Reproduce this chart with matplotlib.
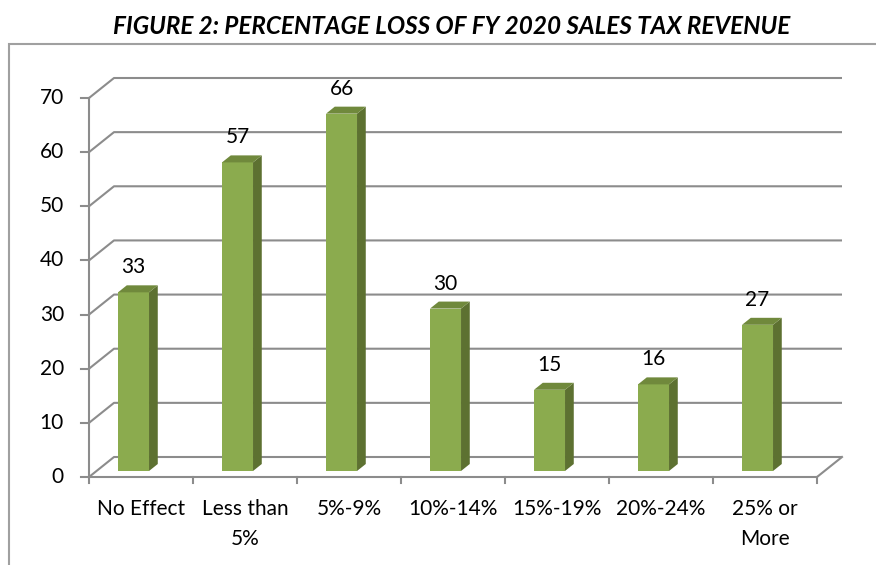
import numpy as np
import matplotlib
matplotlib.use("Agg")
import matplotlib.pyplot as plt
from matplotlib.patches import Polygon, Rectangle

plt.rcParams['font.family'] = ['Lato', 'DejaVu Sans']

categories = ["No Effect", "Less than\n5%", "5%-9%", "10%-14%", "15%-19%", "20%-24%", "25% or\nMore"]
values = [33, 57, 66, 30, 15, 16, 27]
yticks = [0, 10, 20, 30, 40, 50, 60, 70]
title = "FIGURE 2: PERCENTAGE LOSS OF FY 2020 SALES TAX REVENUE"

W, H = 876, 565
fig = plt.figure(figsize=(W / 100, H / 100), dpi=100)
ax = fig.add_axes([0, 0, 1, 1])

# pixel layout of the pseudo-3d plot
x0_px, y0_px = 89, 477          # front-left corner of floor
cat_px = 104                    # width of one category
val_px = 379 / 70               # pixels per unit
ax.set_xlim(-x0_px / cat_px, (W - x0_px) / cat_px)
ax.set_ylim(-(H - y0_px) / val_px, y0_px / val_px)
ax.axis('off')

DX = 25 / cat_px   # depth offset in data units
DY = 20 / val_px
n = len(categories)
grid_c = '#8c8c8c'
lw = 1.5
fs = 15

# back wall gridlines
for v in yticks:
    ax.plot([0, DX, n + DX], [v, v + DY, v + DY], color=grid_c, lw=lw, solid_capstyle='butt')
# floor
ax.plot([0, n, n + DX], [0, 0, DY], color=grid_c, lw=lw)
# vertical axis and ticks
ax.plot([0, 0], [0, max(yticks)], color=grid_c, lw=lw)
for v in yticks:
    ax.plot([-8 / cat_px, 0], [v, v], color=grid_c, lw=lw)
    ax.text(-25 / cat_px, v, str(v), ha='right', va='center', fontsize=fs, color='black')
for i in range(n + 1):
    ax.plot([i, i], [0, -6 / val_px], color=grid_c, lw=lw)

# bars
bl, bw = 0.207, 0.298
t0, t1 = 0.3, 0.65
front_c, side_c, top_c = '#8bab4e', '#5d7131', '#70893c'
for i, v in enumerate(values):
    xl = i + bl + t0 * DX
    xr = xl + bw
    yb = t0 * DY
    yt = v + t0 * DY
    ddx = (t1 - t0) * DX
    ddy = (t1 - t0) * DY
    ax.add_patch(Polygon([(xl, yb), (xr, yb), (xr, yt), (xl, yt)], closed=True, fc=front_c, ec='none', zorder=3))
    ax.add_patch(Polygon([(xr, yb), (xr + ddx, yb + ddy), (xr + ddx, yt + ddy), (xr, yt)], closed=True, fc=side_c, ec='none', zorder=3))
    ax.add_patch(Polygon([(xl, yt), (xr, yt), (xr + ddx, yt + ddy), (xl + ddx, yt + ddy)], closed=True, fc=top_c, ec='none', zorder=3))
    ax.text((xl + xr) / 2, yt + 25 / val_px, str(v), ha='center', va='center', fontsize=fs, color='black', zorder=4)

for i, c in enumerate(categories):
    ax.text(i + 0.5, -22 / val_px, c, ha='center', va='top', fontsize=fs, linespacing=1.6, color='black')

# chart frame
fig.patches.append(Rectangle((9 / W, -0.05), 1.0, 1 - 44 / H + 0.05, transform=fig.transFigure,
                             fill=False, ec='#a0a0a0', lw=1.5))
fig.text(452 / W, 1 - 26 / H, title, ha='center', va='center', fontsize=17.5,
         fontweight='bold', fontstyle='italic', color='black')

fig.savefig('out.png', dpi=100)
